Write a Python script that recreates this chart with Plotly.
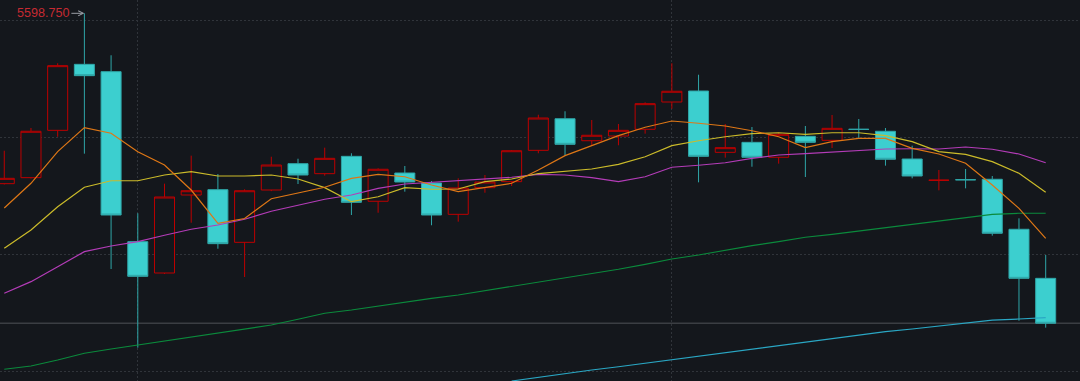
import plotly.graph_objects as go

# ---- data ----
idx = list(range(40))

open_ = [5343.2, 5352.2, 5423.2, 5522.2, 5511.2, 5256.2, 5209.2, 5326.2, 5334.2, 5255.2,
         5333.7, 5373.2, 5358.2, 5384.2, 5316.8, 5359.2, 5344.2, 5297.2, 5337.2, 5346.2,
         5393.2, 5440.6, 5407.6, 5414.7, 5424.8, 5465.7, 5482.2, 5390.2, 5405.2, 5382.8,
         5414.2, 5408.2, 5424.8, 5421.8, 5380.2, 5348.2, 5349.2, 5349.8, 5274.8, 5201.2]
high = [5392.6, 5426.7, 5523.8, 5598.75, 5535.8, 5298.8, 5343.2, 5385.2, 5357.7, 5334.8,
        5383.6, 5380.6, 5397.2, 5388.8, 5366.2, 5369.7, 5347.2, 5351.2, 5356.2, 5393.7,
        5446.6, 5451.8, 5438.7, 5432.7, 5465.2, 5523.8, 5506.6, 5432.7, 5428.2, 5419.6,
        5429.7, 5446.2, 5440.2, 5426.7, 5400.2, 5363.7, 5365.2, 5354.7, 5291.2, 5236.2]
low = [5342.0, 5351.0, 5413.6, 5388.2, 5215.2, 5097.2, 5207.7, 5284.6, 5245.6, 5203.2,
       5332.0, 5342.7, 5355.2, 5296.2, 5299.6, 5331.2, 5280.8, 5286.2, 5329.6, 5339.7,
       5388.8, 5385.2, 5399.7, 5400.8, 5418.2, 5455.6, 5345.2, 5382.2, 5368.6, 5373.2,
       5353.2, 5396.7, 5411.2, 5370.2, 5351.2, 5333.2, 5336.2, 5265.2, 5137.6, 5127.2]
close = [5351.2, 5421.8, 5520.2, 5505.2, 5296.2, 5204.2, 5323.2, 5332.6, 5253.2, 5332.6,
         5371.2, 5356.2, 5381.2, 5315.2, 5364.8, 5345.7, 5296.2, 5336.7, 5345.7, 5392.6,
         5441.7, 5402.2, 5415.8, 5423.2, 5463.2, 5481.8, 5384.2, 5397.2, 5382.8, 5417.2,
         5405.2, 5426.2, 5424.6, 5379.8, 5354.7, 5348.4, 5349.0, 5268.8, 5201.2, 5133.8]

ma5 = [5306.7, 5343.8, 5391.2, 5427.2, 5418.8, 5391.2, 5371.2, 5333.7, 5283.8, 5291.0,
       5320.6, 5329.6, 5337.8, 5351.2, 5357.2, 5353.6, 5341.2, 5331.2, 5337.8, 5343.8,
       5363.7, 5385.2, 5400.2, 5415.2, 5427.8, 5437.2, 5433.8, 5429.7, 5422.6, 5413.6,
       5397.2, 5406.2, 5411.2, 5411.2, 5396.2, 5387.7, 5373.8, 5341.2, 5306.2, 5261.2]
ma10 = [5246.2, 5273.7, 5308.6, 5337.8, 5347.6, 5347.6, 5356.2, 5361.2, 5354.7, 5354.7,
        5356.2, 5350.2, 5337.2, 5316.2, 5323.6, 5337.2, 5334.8, 5335.2, 5346.2, 5350.2,
        5358.4, 5361.8, 5365.2, 5372.2, 5383.6, 5400.2, 5407.6, 5413.6, 5418.2, 5419.6,
        5417.2, 5419.6, 5419.6, 5415.2, 5406.2, 5391.2, 5387.2, 5376.2, 5358.8, 5330.2]
ma20 = [5178.8, 5196.2, 5218.6, 5241.2, 5249.7, 5256.2, 5265.8, 5274.8, 5281.2, 5289.8,
        5301.8, 5311.2, 5319.8, 5326.2, 5336.2, 5342.7, 5345.2, 5347.2, 5349.8, 5352.8,
        5357.2, 5356.2, 5352.2, 5346.2, 5353.6, 5367.8, 5370.8, 5374.6, 5381.2, 5386.2,
        5388.2, 5390.7, 5392.6, 5395.2, 5395.6, 5395.2, 5398.2, 5394.8, 5387.7, 5374.6]
ma60 = [5064.8, 5069.7, 5078.7, 5088.8, 5095.2, 5101.2, 5107.6, 5113.6, 5118.8, 5124.8,
        5131.2, 5139.8, 5148.8, 5153.7, 5159.7, 5166.2, 5171.2, 5176.2, 5182.6, 5188.6,
        5195.2, 5201.2, 5207.7, 5214.8, 5222.2, 5230.2, 5236.2, 5243.7, 5250.2, 5256.2,
        5262.8, 5267.2, 5272.2, 5277.2, 5282.7, 5287.6, 5292.8, 5297.2, 5298.8, 5298.8]
ma120 = [None] * 19 + [5047.2, 5052.8, 5058.8, 5063.7, 5068.6, 5073.8, 5079.8, 5084.7,
                       5090.2, 5095.6, 5100.8, 5105.2, 5111.2, 5116.2, 5121.2, 5125.2,
                       5129.7, 5134.6, 5138.6, 5140.2, 5142.2]

BG = "#14171c"
RED = "#bd0000"
CYAN_FILL = "#3ccfcf"
CYAN_LINE = "#2fa6a8"

fig = go.Figure()

fig.add_trace(go.Candlestick(
    x=idx, open=open_, high=high, low=low, close=close,
    increasing=dict(line=dict(color=RED, width=1), fillcolor=BG),
    decreasing=dict(line=dict(color=CYAN_LINE, width=1), fillcolor=CYAN_FILL),
    whiskerwidth=0, hoverinfo="skip",
))

for vals, col in [(ma120, "#2aa7c4"), (ma60, "#0b8a3c"), (ma20, "#b43cb8"),
                  (ma10, "#cbbb2a"), (ma5, "#de7716")]:
    fig.add_trace(go.Scatter(x=idx, y=vals, mode="lines",
                             line=dict(color=col, width=1.2), hoverinfo="skip"))

# last-price line
fig.add_hline(y=close[-1], line=dict(color="#3b3e43", width=1.5), layer="below")

# max-high annotation
imax = high.index(max(high))
fig.add_annotation(x=idx[imax], y=high[imax], text=f"{high[imax]:.3f}",
                   showarrow=True, ax=-41, ay=0, arrowhead=5, arrowsize=1,
                   arrowwidth=1, arrowcolor="#9a9ea6", standoff=0,
                   font=dict(family="Liberation Sans, Arial", size=12.6, color="#c62a32"))

ytop = 5618.7
ybot = ytop - 1.5 * 381
fig.update_layout(
    width=1080, height=381,
    margin=dict(l=0, r=0, t=0, b=0, pad=0),
    paper_bgcolor=BG, plot_bgcolor=BG,
    showlegend=False, boxgap=0.25, boxgroupgap=0,
    xaxis=dict(range=[-0.16, 40.285], showticklabels=False, zeroline=False,
               rangeslider=dict(visible=False), showgrid=True,
               tickvals=[5, 25], gridcolor="#30343a", griddash="2px,2px",
               gridwidth=1, ticks=""),
    yaxis=dict(range=[ybot, ytop], showticklabels=False, zeroline=False,
               showgrid=True, tickvals=[5588.7, 5412.9, 5237.1, 5061.3],
               gridcolor="#30343a", griddash="2px,2px", gridwidth=1, ticks=""),
)

fig.write_html(
    "out.html",
    config={"displayModeBar": False},
    post_script="document.body.style.margin='0';document.body.style.background='#14171c';"
                "document.body.style.overflow='hidden';",
)
